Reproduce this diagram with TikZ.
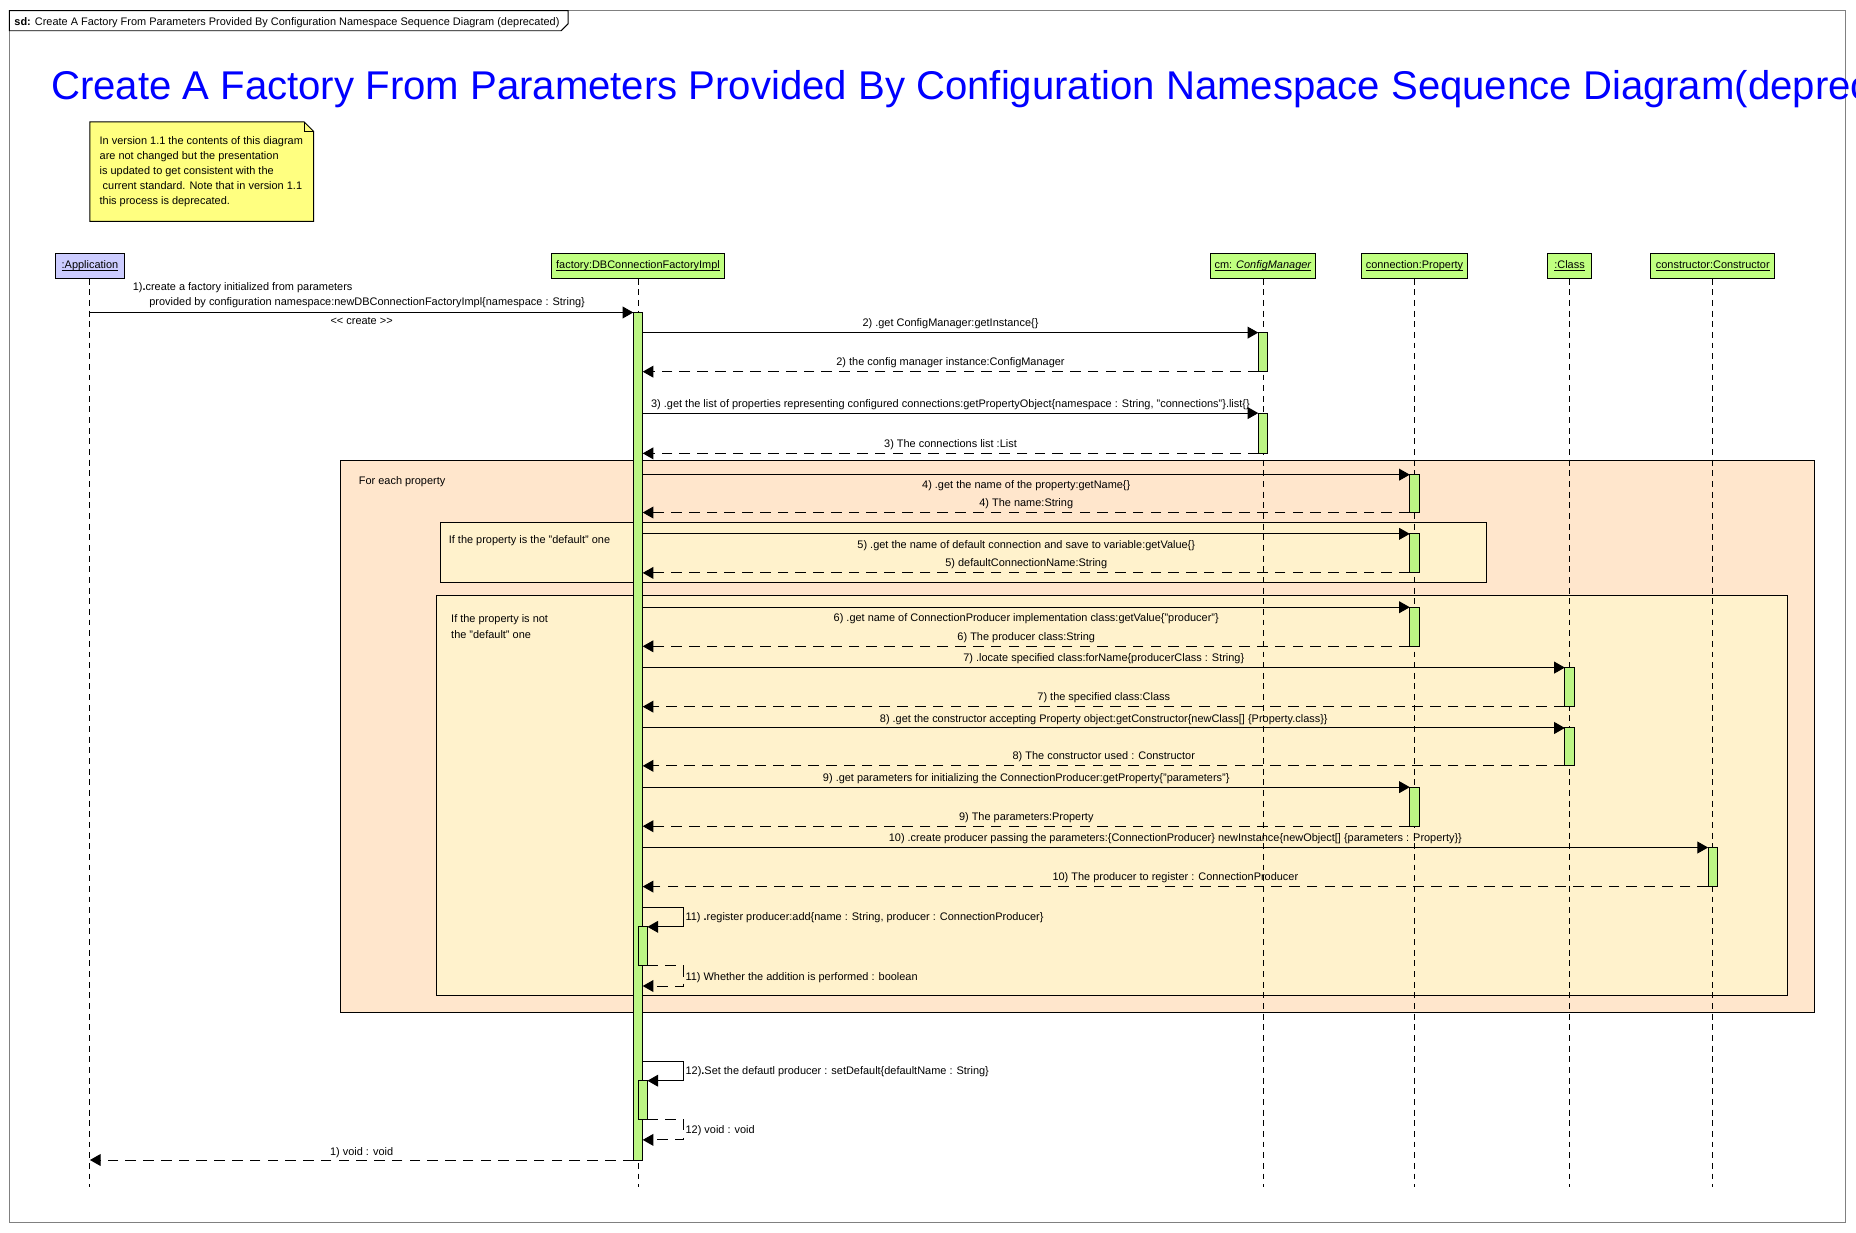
\documentclass[tikz,border=0pt]{standalone}
\usepackage{fontspec}
\setmainfont{Liberation Sans}
\usetikzlibrary{arrows.meta}
\definecolor{headgreen}{HTML}{C0FF80}
\definecolor{actgreen}{HTML}{BCF584}
\definecolor{appblue}{HTML}{CCCCFF}
\definecolor{loopfill}{HTML}{FFE6CC}
\definecolor{altfill}{HTML}{FFF2CC}
\definecolor{notefill}{HTML}{FFFF80}
\definecolor{titleblue}{HTML}{0000FF}
\definecolor{framegray}{HTML}{808080}
\tikzset{
  lbl/.style={font=\fontsize{9.25}{11}\selectfont, inner sep=0pt},
  callmsg/.style={line width=0.8pt, -{Triangle[length=9pt,width=10pt]}},
  retmsg/.style={callmsg, dash pattern=on 9pt off 6pt},
  lifeline/.style={line width=0.8pt, dash pattern=on 5pt off 4pt},
  actbar/.style={draw=black, fill=actgreen, line width=0.8pt},
  lifehead/.style={draw=black, fill=headgreen, line width=0.8pt, minimum height=21pt, inner sep=0pt, font=\fontsize{9.25}{11}\selectfont},
  fragbox/.style={draw=black, line width=0.8pt},
  above lbl/.style={lbl, midway, anchor=base, yshift=5pt},
  below lbl/.style={lbl, midway, anchor=base, yshift=-12pt},
}
\newsavebox\ulbox
\newcommand\ulhead[1]{\sbox\ulbox{#1}\rlap{\usebox\ulbox}\rule[-1.9pt]{\wd\ulbox}{0.75pt}}
\begin{document}
\begin{tikzpicture}[x=1pt,y=-1pt]
\useasboundingbox (0,0) rectangle (1568,1041);
\fill[white] (0,0) rectangle (1568,1041);
% outer frame
\draw[framegray, line width=1.2pt] (8,9) rectangle (1559,1033);
% title
\node[font=\fontsize{33.9}{40}\selectfont, text=titleblue, anchor=base west, inner sep=0pt] (title) at (43,84) {Create A Factory From Parameters Provided By Configuration Namespace Sequence Diagram(deprecated)};
% tab
\draw[fill=white, line width=0.8pt] (8,9) -- (480,9) -- (480,20) -- (474,26) -- (8,26) -- cycle;
\node[lbl, anchor=base west] (tab) at (12,21.5) {\textbf{sd:} Create A Factory From Parameters Provided By Configuration Namespace Sequence Diagram (deprecated)};
% note
\draw[fill=notefill, line width=0.8pt] (76,103) -- (257,103) -- (265,111) -- (265,187) -- (76,187) -- cycle;
\draw[line width=0.8pt] (257,103) -- (257,111) -- (265,111);
\node[lbl, anchor=north west, align=left, font=\fontsize{9.25}{12.7}\selectfont] (note) at (84,115) {In version 1.1 the contents of this diagram\\are not changed but the presentation\\is updated to get consistent with the\\ \ current standard. Note that in version 1.1\\this process is deprecated.};

% combined fragments
\draw[fragbox, fill=loopfill] (288,389) rectangle (1533,855);
\node[lbl, anchor=base west] (loopl) at (303,409) {For each property};
\draw[fragbox, fill=altfill] (372,441) rectangle (1256,492);
\node[lbl, anchor=base west] (alt1l) at (379,459) {If the property is the "default" one};
\draw[fragbox, fill=altfill] (369,503) rectangle (1510,841);
\node[lbl, anchor=north west, align=left, font=\fontsize{9.25}{13.2}\selectfont] (alt2l) at (381,519) {If the property is not\\the "default" one};

% lifeline heads
\node[lifehead, fill=appblue, minimum width=58pt] (hA) at (76,224.5) {\ulhead{:Application}};
\node[lifehead, minimum width=146pt] (hF) at (539,224.5) {\ulhead{factory:DBConnectionFactoryImpl}};
\node[lifehead, minimum width=88pt] (hC) at (1067,224.5) {\ulhead{cm: \textit{ConfigManager}}};
\node[lifehead, minimum width=90pt] (hP) at (1195,224.5) {\ulhead{connection:Property}};
\node[lifehead, minimum width=37pt] (hK) at (1326,224.5) {\ulhead{:Class}};
\node[lifehead, minimum width=105pt] (hT) at (1447,224.5) {\ulhead{constructor:Constructor}};

% lifeline ends
\coordinate (eA) at (76,1003);
\coordinate (eF) at (539,1003);
\coordinate (eC) at (1067,1003);
\coordinate (eP) at (1195,1003);
\coordinate (eK) at (1326,1003);
\coordinate (eT) at (1447,1003);
\draw[lifeline] (hA.south) -- (eA);
\draw[lifeline] (hF.south) -- (eF);
\draw[lifeline] (hC.south) -- (eC);
\draw[lifeline] (hP.south) -- (eP);
\draw[lifeline] (hK.south) -- (eK);
\draw[lifeline] (hT.south) -- (eT);

% message coordinates
\coordinate (m1a) at (76,264);   \coordinate (m1b) at (535,264);
\coordinate (m2a) at (543,281);  \coordinate (m2b) at (1063,281);
\coordinate (r2a) at (1063,314); \coordinate (r2b) at (543,314);
\coordinate (m3a) at (543,349);  \coordinate (m3b) at (1063,349);
\coordinate (r3a) at (1063,383); \coordinate (r3b) at (543,383);
\coordinate (m4a) at (543,401);  \coordinate (m4b) at (1191,401);
\coordinate (r4a) at (1191,433); \coordinate (r4b) at (543,433);
\coordinate (m5a) at (543,451);  \coordinate (m5b) at (1191,451);
\coordinate (r5a) at (1191,484); \coordinate (r5b) at (543,484);
\coordinate (m6a) at (543,513);  \coordinate (m6b) at (1191,513);
\coordinate (r6a) at (1191,546); \coordinate (r6b) at (543,546);
\coordinate (m7a) at (543,564);  \coordinate (m7b) at (1322,564);
\coordinate (r7a) at (1322,597); \coordinate (r7b) at (543,597);
\coordinate (m8a) at (543,615);  \coordinate (m8b) at (1322,615);
\coordinate (r8a) at (1322,647); \coordinate (r8b) at (543,647);
\coordinate (m9a) at (543,665);  \coordinate (m9b) at (1191,665);
\coordinate (r9a) at (1191,698); \coordinate (r9b) at (543,698);
\coordinate (m10a) at (543,716); \coordinate (m10b) at (1443,716);
\coordinate (r10a) at (1443,749);\coordinate (r10b) at (543,749);
\coordinate (m11a) at (543,767); \coordinate (m11b) at (547,783);
\coordinate (r11a) at (547,816); \coordinate (r11b) at (543,833);
\coordinate (m12a) at (543,897); \coordinate (m12b) at (547,913);
\coordinate (r12a) at (547,946); \coordinate (r12b) at (543,963);
\coordinate (r1a) at (535,980);  \coordinate (r1b) at (76,980);

% messages
\node[lbl, anchor=base west] (l1a) at (112,245) {1)\textbf{.}create a factory initialized from parameters};
\node[lbl, anchor=base west] (l1b) at (126,258) {provided by configuration namespace:newDBConnectionFactoryImpl\{namespace : String\}};
\draw[callmsg] (m1a) -- (m1b) node[lbl, midway, anchor=base, yshift=-10pt] (l1c) {<{}< create >{}>};
\draw[callmsg] (m2a) -- (m2b) node[above lbl] (l2) {2) .get ConfigManager:getInstance\{\}};
\draw[retmsg] (r2a) -- (r2b) node[above lbl] (lr2) {2) the config manager instance:ConfigManager};
\draw[callmsg] (m3a) -- (m3b) node[above lbl] (l3) {3) .get the list of properties representing configured connections:getPropertyObject\{namespace : String, "connections"\}.list\{\}};
\draw[retmsg] (r3a) -- (r3b) node[above lbl] (lr3) {3) The connections list :List};
\draw[callmsg] (m4a) -- (m4b) node[below lbl] (l4) {4) .get the name of the property:getName\{\}};
\draw[retmsg] (r4a) -- (r4b) node[above lbl] (lr4) {4) The name:String};
\draw[callmsg] (m5a) -- (m5b) node[below lbl] (l5) {5) .get the name of default connection and save to variable:getValue\{\}};
\draw[retmsg] (r5a) -- (r5b) node[above lbl] (lr5) {5) defaultConnectionName:String};
\draw[callmsg] (m6a) -- (m6b) node[below lbl] (l6) {6) .get name of ConnectionProducer implementation class:getValue\{"producer"\}};
\draw[retmsg] (r6a) -- (r6b) node[above lbl] (lr6) {6) The producer class:String};
\draw[callmsg] (m7a) -- (m7b) node[above lbl] (l7) {7) .locate specified class:forName\{producerClass : String\}};
\draw[retmsg] (r7a) -- (r7b) node[above lbl] (lr7) {7) the specified class:Class};
\draw[callmsg] (m8a) -- (m8b) node[above lbl] (l8) {8) .get the constructor accepting Property object:getConstructor\{newClass[] \{Property.class\}\}};
\draw[retmsg] (r8a) -- (r8b) node[above lbl] (lr8) {8) The constructor used : Constructor};
\draw[callmsg] (m9a) -- (m9b) node[above lbl] (l9) {9) .get parameters for initializing the ConnectionProducer:getProperty\{"parameters"\}};
\draw[retmsg] (r9a) -- (r9b) node[above lbl] (lr9) {9) The parameters:Property};
\draw[callmsg] (m10a) -- (m10b) node[above lbl] (l10) {10) .create producer passing the parameters:\{ConnectionProducer\} newInstance\{newObject[] \{parameters : Property\}\}};
\draw[retmsg] (r10a) -- (r10b) node[above lbl] (lr10) {10) The producer to register : ConnectionProducer};
\draw[callmsg] (m11a) -- ++(34,0) |- (m11b);
\node[lbl, anchor=base west] (l11) at (579,778) {11) \textbf{.}register producer:add\{name : String, producer : ConnectionProducer\}};
\draw[retmsg] (r11a) -- ++(30,0) |- (r11b);
\node[lbl, anchor=base west] (lr11) at (579,828) {11) Whether the addition is performed : boolean};
\draw[callmsg] (m12a) -- ++(34,0) |- (m12b);
\node[lbl, anchor=base west] (l12) at (579,908) {12)\textbf{.}Set the defautl producer : setDefault\{defaultName : String\}};
\draw[retmsg] (r12a) -- ++(30,0) |- (r12b);
\node[lbl, anchor=base west] (lr12) at (579,958) {12) void : void};
\draw[retmsg] (r1a) -- (r1b) node[lbl, midway, anchor=base, yshift=4pt] (lr1) {1) void : void};

% activation bars
\draw[actbar] (535,264) rectangle (543,980);
\draw[actbar] (1063,281) rectangle (1071,314);
\draw[actbar] (1063,349) rectangle (1071,383);
\draw[actbar] (1191,401) rectangle (1199,433);
\draw[actbar] (1191,451) rectangle (1199,484);
\draw[actbar] (1191,513) rectangle (1199,546);
\draw[actbar] (1191,665) rectangle (1199,698);
\draw[actbar] (1322,564) rectangle (1330,597);
\draw[actbar] (1322,615) rectangle (1330,647);
\draw[actbar] (1443,716) rectangle (1451,749);
\draw[actbar] (539,783) rectangle (547,816);
\draw[actbar] (539,913) rectangle (547,946);
\end{tikzpicture}
\end{document}
